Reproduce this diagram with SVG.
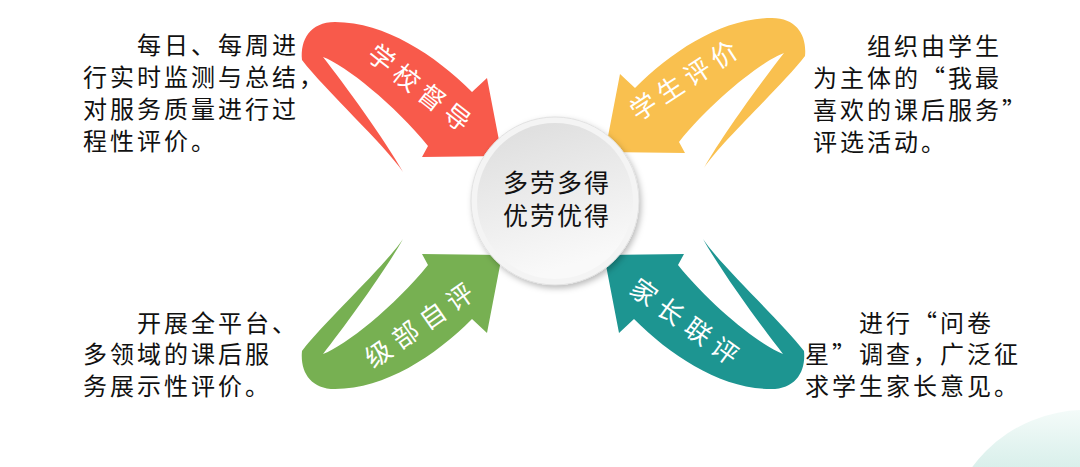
<svg xmlns="http://www.w3.org/2000/svg" xmlns:xlink="http://www.w3.org/1999/xlink" width="1080" height="467" viewBox="0 0 1080 467">
  <defs>
    <style>
      .txt { font-family: "Noto Sans CJK SC", "Noto Sans CJK TC", sans-serif; font-size: 24px; fill: #111; font-feature-settings: "fwid" 1; }
      .ctr { font-family: "Noto Sans CJK SC", sans-serif; font-size: 25px; fill: #111; text-anchor: middle; }
      .lbl { font-family: "Noto Sans CJK SC", sans-serif; font-size: 26px; fill: #ffffff; text-anchor: middle; }
    </style>
    <path id="arrow" d="M 403,172 C 385,145 325,90 302,60 C 300,40 310,22 335,22 C 385,22 435,55 472,92 L 487,78 L 502,156 L 422,157 L 428,146 C 395,105 345,65 323,57 C 345,85 385,140 403,172 Z"/>
    <linearGradient id="discGrad" x1="0" y1="0" x2="0.3" y2="1">
      <stop offset="0" stop-color="#dcdcdc"/>
      <stop offset="1" stop-color="#f9f9f9"/>
    </linearGradient>
    <linearGradient id="cornerGrad" x1="0" y1="0" x2="0" y2="1">
      <stop offset="0" stop-color="#f4fbf9"/>
      <stop offset="0.25" stop-color="#d3ede8"/>
      <stop offset="0.5" stop-color="#c2e5de"/>
      <stop offset="1" stop-color="#b5dfd6"/>
    </linearGradient>
    <filter id="shadow" x="-20%" y="-20%" width="140%" height="140%">
      <feDropShadow dx="2" dy="3" stdDeviation="3" flood-color="#000" flood-opacity="0.28"/>
    </filter>
  </defs>

  <rect width="1080" height="467" fill="#ffffff"/>

  <g id="corner-decoration">
    <circle cx="1085" cy="550" r="140" fill="url(#cornerGrad)"/>
  </g>

  <g id="connectors">
    <g id="arrow-school">
      <use xlink:href="#arrow" href="#arrow" fill="#F85A4B"/>
      <g transform="translate(419,88) rotate(38)">
        <text class="lbl" x="-48 -16 16 48" y="9">学校督导</text>
      </g>
    </g>
    <g id="arrow-student">
      <use xlink:href="#arrow" href="#arrow" fill="#F9C04F" transform="matrix(-1,0,0,1,1107,-4)"/>
      <g transform="translate(684,81) rotate(-33)">
        <text class="lbl" x="-48 -16 16 48" y="9">学生评价</text>
      </g>
    </g>
    <g id="arrow-class">
      <use xlink:href="#arrow" href="#arrow" fill="#77B052" transform="matrix(1,0,0,-1,0,411)"/>
      <g transform="translate(419,326) rotate(-35)">
        <text class="lbl" x="-49 -16 17 50" y="9">级部自评</text>
      </g>
    </g>
    <g id="arrow-parent">
      <use xlink:href="#arrow" href="#arrow" fill="#1D9591" transform="matrix(-1,0,0,-1,1106,411)"/>
      <g transform="translate(684,322) rotate(36)">
        <text class="lbl" x="-50 -17 17 50" y="9">家长联评</text>
      </g>
    </g>
  </g>

  <g id="center-node">
    <circle cx="555" cy="201" r="84" fill="#f4f4f4" filter="url(#shadow)"/>
    <circle cx="555" cy="201" r="84" fill="none" stroke="#e2e2e2" stroke-width="1"/>
    <circle cx="555" cy="201" r="78" fill="url(#discGrad)"/>
    <text class="ctr" x="515.5 542.5 569.5 596.5" y="192">多劳多得</text>
    <text class="ctr" x="515.5 542.5 569.5 596.5" y="225">优劳优得</text>
  </g>

  <g id="text-school">
    <text class="txt" x="137 164 191 218 245 272" y="54">每日、每周进</text>
    <text class="txt" x="83 110 137 164 191 218 245 272 299" y="86">行实时监测与总结，</text>
    <text class="txt" x="83 110 137 164 191 218 245 272" y="118">对服务质量进行过</text>
    <text class="txt" x="83 110 137 164 191" y="150">程性评价。</text>
  </g>

  <g id="text-student">
    <text class="txt" x="867 894 921 948 975" y="55">组织由学生</text>
    <text class="txt" x="813 840 867 894 921 948 975" y="87">为主体的“我最</text>
    <text class="txt" x="813 840 867 894 921 948 975 1002" y="119">喜欢的课后服务”</text>
    <text class="txt" x="813 840 867 894 921" y="151">评选活动。</text>
  </g>

  <g id="text-class">
    <text class="txt" x="137 164 191 218 245 272" y="332">开展全平台、</text>
    <text class="txt" x="83 110 137 164 191 218 245" y="363">多领域的课后服</text>
    <text class="txt" x="83 110 137 164 191 218 245" y="395">务展示性评价。</text>
  </g>

  <g id="text-parent">
    <text class="txt" x="859 886 913 940 967" y="332">进行“问卷</text>
    <text class="txt" x="805 832 859 886 913 940 967 994" y="363">星”调查，广泛征</text>
    <text class="txt" x="805 832 859 886 913 940 967 994" y="395">求学生家长意见。</text>
  </g>
</svg>
